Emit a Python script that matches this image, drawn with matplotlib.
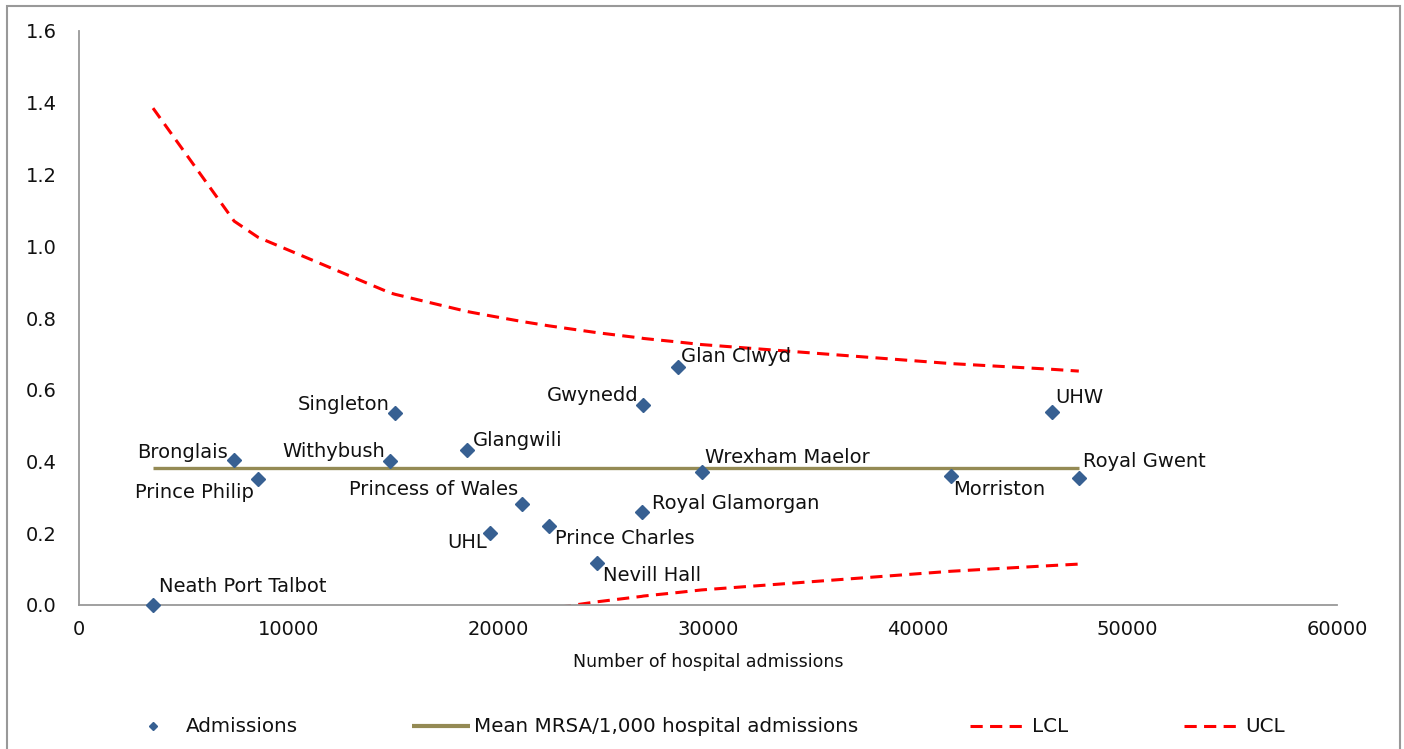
import matplotlib
matplotlib.use("Agg")
import matplotlib.pyplot as plt
from matplotlib.lines import Line2D
from matplotlib.patches import Rectangle

# ---- data ----
hospitals = ["Neath Port Talbot", "Bronglais", "Prince Philip", "Withybush", "Singleton",
             "Glangwili", "UHL", "Princess of Wales", "Prince Charles", "Nevill Hall",
             "Royal Glamorgan", "Gwynedd", "Glan Clwyd", "Wrexham Maelor", "Morriston",
             "UHW", "Royal Gwent"]
admissions = [3530, 7400, 8540, 14840, 15080, 18520, 19620, 21150, 22430, 24720,
              26830, 26920, 28590, 29690, 41575, 46400, 47685]
mrsa_rate = [0.0, 0.404, 0.351, 0.401, 0.535, 0.432, 0.201, 0.282, 0.220, 0.117,
             0.259, 0.557, 0.663, 0.371, 0.360, 0.538, 0.354]
mean_rate = [0.382] * len(admissions)
ucl = [1.385, 1.070, 1.025, 0.870, 0.866, 0.818, 0.806, 0.790, 0.778, 0.759,
       0.744, 0.743, 0.733, 0.726, 0.673, 0.657, 0.652]
lcl = [-0.605, -0.300, -0.253, -0.099, -0.095, -0.049, -0.037, -0.021, -0.010, 0.009,
       0.024, 0.025, 0.035, 0.042, 0.094, 0.110, 0.114]
legend_labels = ["Admissions", "Mean MRSA/1,000 hospital admissions", "LCL", "UCL"]

# label placement (pixel offsets from marker, alignment)
label_pos = {
    "Neath Port Talbot": (6, 19, "left"),
    "Bronglais": (-6, 8, "right"),
    "Prince Philip": (-4, -13, "right"),
    "Withybush": (-5, 10, "right"),
    "Singleton": (-6, 9, "right"),
    "Glangwili": (6, 10, "left"),
    "UHL": (-3, -10, "right"),
    "Princess of Wales": (-4, 14, "right"),
    "Prince Charles": (6, -12, "left"),
    "Nevill Hall": (6, -12, "left"),
    "Royal Glamorgan": (10, 9, "left"),
    "Gwynedd": (-5, 10, "right"),
    "Glan Clwyd": (3, 11, "left"),
    "Wrexham Maelor": (3, 14, "left"),
    "Morriston": (2, -14, "left"),
    "UHW": (3, 14, "left"),
    "Royal Gwent": (4, 17, "left"),
}

plt.rcParams['font.family'] = ['DejaVu Sans']
W, H = 1404, 749
fig = plt.figure(figsize=(W/100, H/100), dpi=100)
ax = fig.add_axes([79/W, 1-605/H, (1337-79)/W, (605-31)/H])

blue = "#376092"
olive = "#948A54"
red = "#FF0000"
txt = '#111111'
dash = (4, 2.4)

ax.plot(admissions, mean_rate, color=olive, lw=2.4, solid_capstyle='butt', zorder=2)
ax.plot(admissions, lcl, color=red, lw=2.2, dashes=dash, zorder=2)
ax.plot(admissions, ucl, color=red, lw=2.2, dashes=dash, zorder=2)
ax.plot(admissions, mrsa_rate, ls='none', marker='D', ms=7, color=blue,
        markeredgecolor=blue, clip_on=False, zorder=3)

for name, x, y in zip(hospitals, admissions, mrsa_rate):
    dx, dy, ha = label_pos[name]
    ax.annotate(name, (x, y), xytext=(dx, dy), textcoords='offset pixels',
                ha=ha, va='center', fontsize=14, color=txt, zorder=4)

ax.set_xlim(0, 60000)
ax.set_ylim(0, 1.6)
ax.set_xticks(range(0, 60001, 10000))
ax.set_xticklabels([str(v) for v in range(0, 60001, 10000)])
ax.set_yticks([0.0, 0.2, 0.4, 0.6, 0.8, 1.0, 1.2, 1.4, 1.6])
ax.set_yticklabels(["0.0", "0.2", "0.4", "0.6", "0.8", "1.0", "1.2", "1.4", "1.6"])
ax.tick_params(axis='both', length=0, labelsize=14, colors=txt)
ax.tick_params(axis='y', pad=16)
ax.tick_params(axis='x', pad=11)
for s in ['top', 'right']:
    ax.spines[s].set_visible(False)
for s in ['left', 'bottom']:
    ax.spines[s].set_color('#999999')
    ax.spines[s].set_linewidth(1.3)

fig.text(708/W, 1-662/H, "Number of hospital admissions", ha='center', va='center',
         fontsize=12.5, color=txt)

handles = [
    Line2D([], [], ls='none', marker='D', ms=4.5, color=blue),
    Line2D([], [], color=olive, lw=3, solid_capstyle='butt'),
    Line2D([], [], color=red, lw=2.2, dashes=dash),
    Line2D([], [], color=red, lw=2.2, dashes=dash),
]
handle_starts = [124, 412, 970, 1184]
for h, lab, x0 in zip(handles, legend_labels, handle_starts):
    fig.legend([h], [lab], loc='center left', bbox_to_anchor=(x0/W, 1-727/H),
               frameon=False, fontsize=14.3, handlelength=2.9, handletextpad=0.2,
               borderpad=0, borderaxespad=0, labelcolor=txt)

fig.patches.append(Rectangle((7/W, -0.05), (1400-7)/W, 1.05-6/H, transform=fig.transFigure,
                             fill=False, edgecolor='#999999', lw=1.5))

fig.savefig("out.png", dpi=100)
